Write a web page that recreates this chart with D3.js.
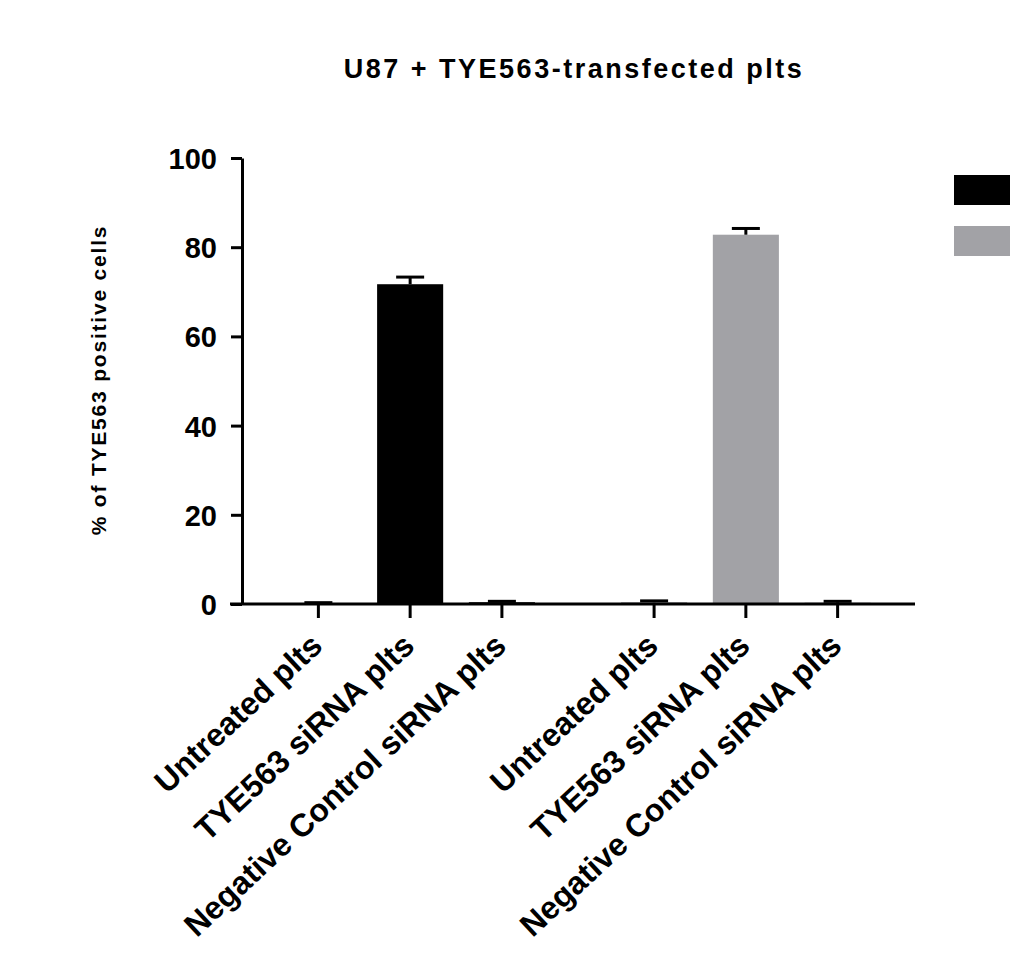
<!DOCTYPE html>
<html>
<head>
<meta charset="utf-8">
<script src="https://cdn.jsdelivr.net/npm/d3@7"></script>
<style>
  html, body { margin: 0; padding: 0; background: #fff; }
  svg text { font-family: "Liberation Sans", Arial, sans-serif; font-weight: bold; fill: #000; }
</style>
</head>
<body>
<svg id="chart" width="1029" height="956"></svg>
<script>
// ---- data ----
const groups = ["Group 1", "Group 2"];
const categories = ["Untreated plts", "TYE563 siRNA plts", "Negative Control siRNA plts"];
const seriesColors = ["#000000", "#a2a2a6"];
const values1 = [0.2, 71.7, 0.4];
const errors1 = [0.1, 1.6, 0.2];
const values2 = [0.4, 82.8, 0.3];
const errors2 = [0.3, 1.4, 0.3];
const yTicks = [0, 20, 40, 60, 80, 100];
const titleText = "U87 + TYE563-transfected plts";
const yLabelText = "% of TYE563 positive cells";

const seriesValues = [values1, values2];
const seriesErrors = [errors1, errors2];

const svg = d3.select("#chart");

const y = d3.scaleLinear().domain([0, 100]).range([604, 158]);
const xOuter = d3.scaleBand().domain(groups).range([272.5, 883.5]).paddingInner(0.18);
const xInner = d3.scaleBand().domain(categories).range([0, xOuter.bandwidth()])
  .paddingInner(0.28).paddingOuter(0.14);

const rows = [];
groups.forEach((g, gi) => {
  categories.forEach((c, ci) => {
    rows.push({ g, gi, c, v: seriesValues[gi][ci], e: seriesErrors[gi][ci] });
  });
});
const cx = d => xOuter(d.g) + xInner(d.c) + xInner.bandwidth() / 2;

// bars
svg.append("g").selectAll("rect").data(rows).join("rect")
  .attr("x", d => xOuter(d.g) + xInner(d.c))
  .attr("width", xInner.bandwidth())
  .attr("y", d => y(d.v))
  .attr("height", d => y(0) - y(d.v))
  .attr("fill", d => seriesColors[d.gi]);

// error bars (upper only)
const eb = svg.append("g").attr("stroke", "#000").attr("stroke-width", 3);
eb.selectAll("line.v").data(rows).join("line").attr("class", "v")
  .attr("x1", cx).attr("x2", cx)
  .attr("y1", d => y(d.v)).attr("y2", d => y(d.v + d.e));
eb.selectAll("line.c").data(rows).join("line").attr("class", "c")
  .attr("x1", d => cx(d) - 14).attr("x2", d => cx(d) + 14)
  .attr("y1", d => y(d.v + d.e)).attr("y2", d => y(d.v + d.e));

// y axis
const yAxisG = svg.append("g").attr("transform", "translate(242,0)")
  .call(d3.axisLeft(y).tickValues(yTicks).tickSize(11).tickSizeOuter(0).tickPadding(14));
yAxisG.select(".domain").attr("stroke-width", 3);
yAxisG.selectAll(".tick line").attr("stroke-width", 3);
yAxisG.selectAll(".tick text").attr("font-size", 29).attr("dy", "0.36em")
  .style("font-family", '"Liberation Sans", Arial, sans-serif').style("font-weight", "bold");

// x axis
const xAxisG = svg.append("g").attr("transform", "translate(0,604)");
xAxisG.append("line").attr("x1", 230).attr("x2", 915).attr("y1", 0).attr("y2", 0)
  .attr("stroke", "#000").attr("stroke-width", 3);
xAxisG.selectAll("line.tick").data(rows).join("line").attr("class", "tick")
  .attr("x1", cx).attr("x2", cx).attr("y1", 0).attr("y2", 14)
  .attr("stroke", "#000").attr("stroke-width", 3);
xAxisG.selectAll("text").data(rows).join("text")
  .attr("text-anchor", "end")
  .attr("font-size", 32)
  .attr("transform", d => `translate(${cx(d) + 6},44) rotate(-43)`)
  .text(d => d.c);

// title
svg.append("text").attr("x", 574).attr("y", 78).attr("text-anchor", "middle")
  .attr("font-size", 27).attr("letter-spacing", 2.5)
  .text(titleText);

// y label
svg.append("text").attr("transform", "translate(106,380) rotate(-90)")
  .attr("text-anchor", "middle").attr("font-size", 21).attr("letter-spacing", 1.8)
  .text(yLabelText);

// legend swatches
const legend = svg.append("g");
legend.selectAll("rect").data(seriesColors).join("rect")
  .attr("x", 954).attr("y", (d, i) => 175 + i * 51)
  .attr("width", 56).attr("height", 30).attr("fill", d => d);
</script>
</body>
</html>
